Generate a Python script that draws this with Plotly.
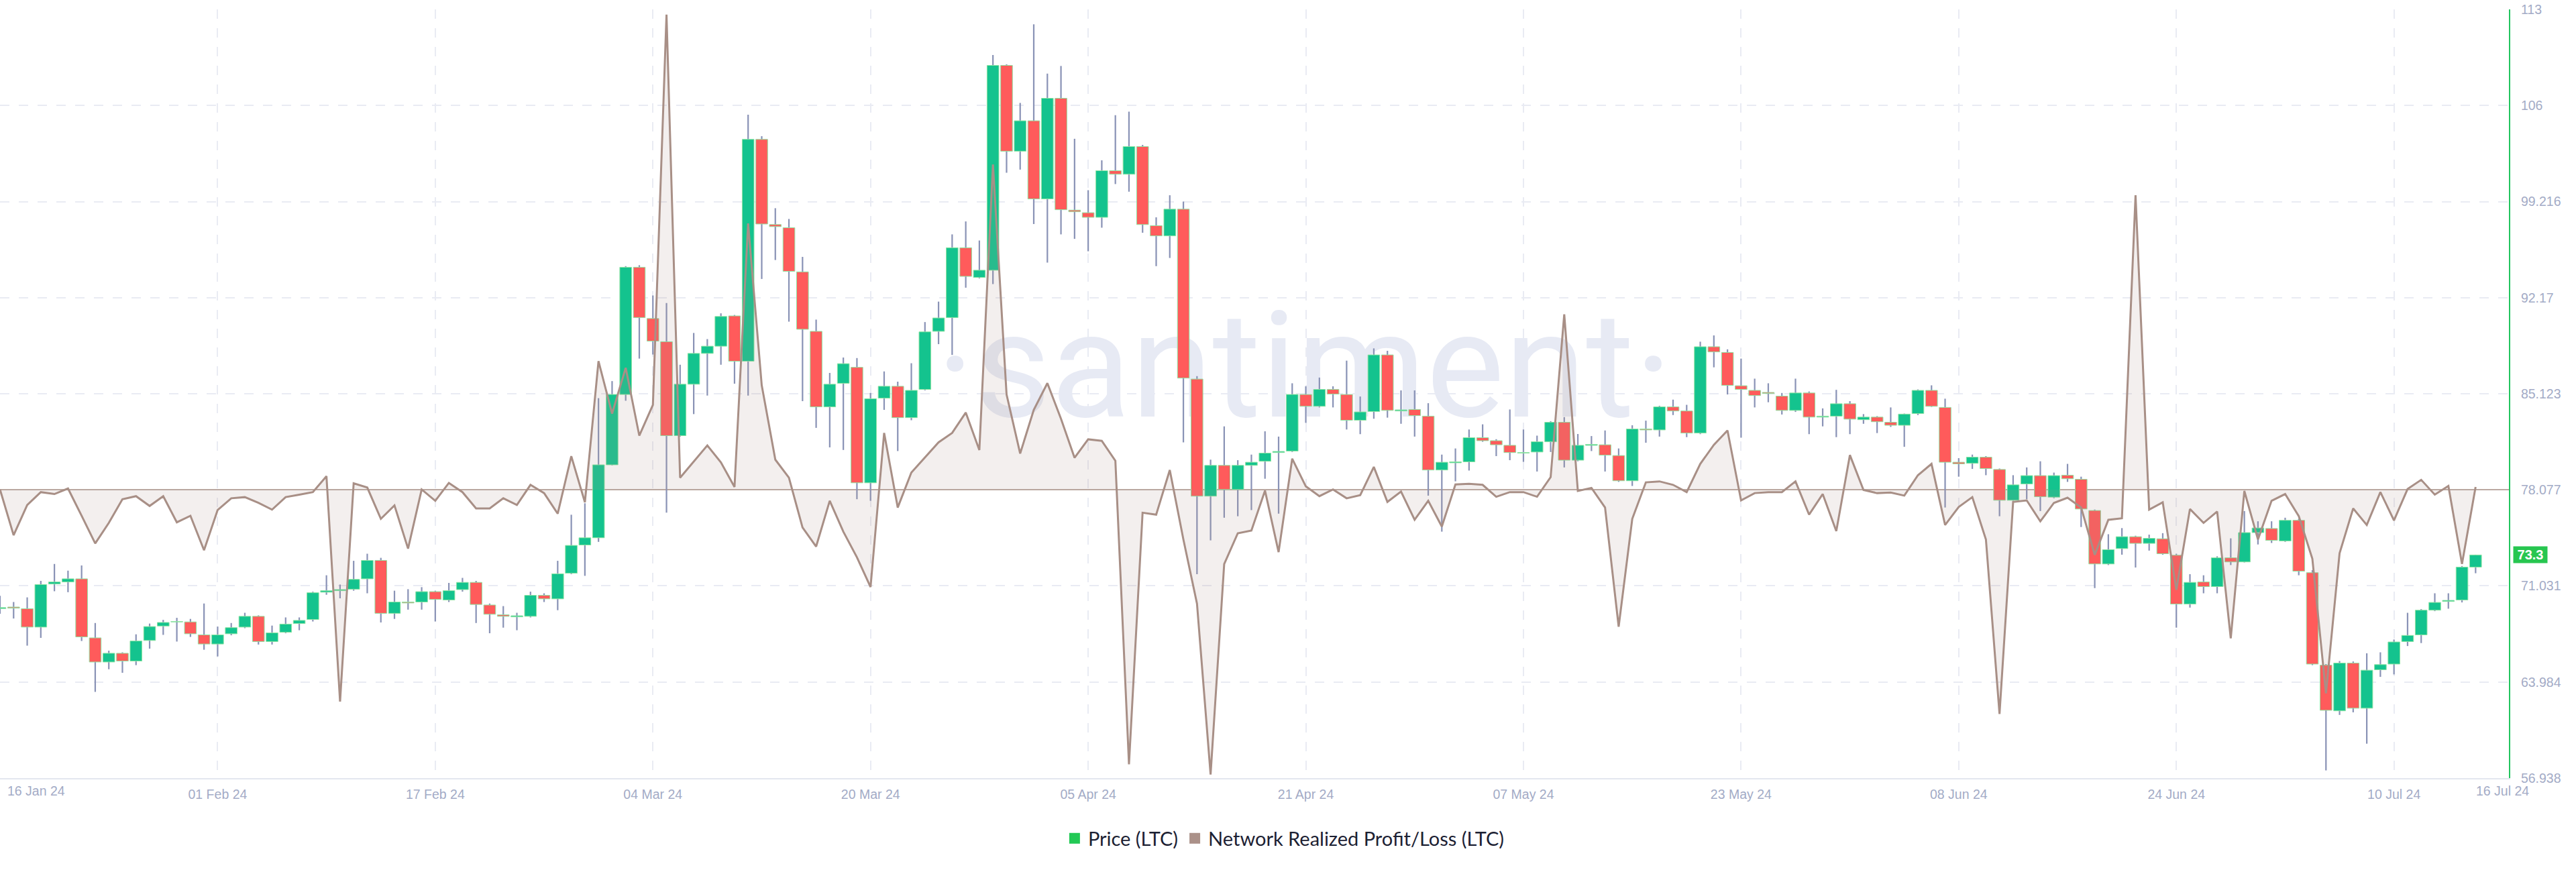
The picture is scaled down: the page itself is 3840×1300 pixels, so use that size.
import pandas as pd
import plotly.graph_objects as go

# ---------------- data ----------------
dates = pd.date_range("2024-01-16", periods=183, freq="D")

price_open = [
    69.37, 69.48, 69.36, 68.01, 71.17, 71.32, 71.55, 67.22, 65.45, 66.09,
    65.52, 67.03, 68.09, 68.39, 68.39, 67.44, 66.77, 67.52, 68.01, 68.80,
    66.95, 67.63, 68.27, 68.57, 70.57, 70.68, 70.79, 71.55, 72.90, 69.02,
    69.85, 69.85, 70.61, 70.00, 70.76, 71.29, 69.63, 68.91, 68.76, 68.80,
    70.34, 70.08, 71.96, 74.03, 74.56, 79.91, 85.07, 94.40, 90.64, 88.94,
    82.05, 85.82, 88.08, 88.61, 90.83, 87.51, 103.78, 97.53, 97.30, 94.06,
    89.70, 84.16, 85.89, 87.06, 78.59, 84.80, 85.67, 83.37, 85.44, 89.70,
    90.71, 95.83, 93.65, 94.18, 109.20, 102.91, 105.14, 99.41, 106.79, 98.59,
    98.40, 98.06, 101.48, 101.22, 103.25, 97.45, 96.70, 98.66, 86.20, 77.61,
    79.87, 78.10, 79.87, 80.17, 80.81, 80.92, 85.07, 84.20, 85.44, 85.07,
    83.18, 83.82, 87.97, 83.86, 83.97, 83.48, 79.53, 80.06, 80.13, 81.90,
    81.68, 81.34, 80.77, 80.85, 81.60, 83.03, 80.25, 81.34, 81.38, 80.59,
    78.74, 82.54, 82.47, 84.16, 83.86, 82.24, 88.57, 88.15, 85.71, 85.37,
    85.22, 84.95, 83.90, 85.18, 83.41, 83.48, 84.39, 83.22, 83.41, 83.03,
    82.81, 83.67, 85.37, 84.12, 80.10, 80.02, 80.47, 79.57, 77.31, 78.51,
    79.12, 77.54, 79.15, 78.85, 76.56, 72.64, 73.77, 74.64, 74.15, 74.49,
    73.28, 69.70, 71.32, 70.98, 73.09, 72.79, 74.94, 75.24, 74.33, 75.84,
    72.00, 65.22, 61.87, 65.37, 62.06, 64.88, 65.30, 66.95, 67.44, 69.25,
    69.89, 70.00, 72.41,
]
price_high = [
    70.30, 69.85, 70.19, 71.40, 72.64, 72.15, 72.53, 68.31, 66.28, 66.16,
    67.48, 68.27, 68.54, 68.69, 68.61, 69.74, 68.05, 68.31, 69.06, 68.87,
    68.12, 68.72, 68.72, 70.61, 71.81, 71.13, 72.87, 73.39, 73.09, 70.68,
    70.79, 70.94, 70.68, 71.25, 71.62, 71.40, 69.74, 69.55, 69.06, 70.61,
    70.49, 72.87, 76.25, 77.09, 84.80, 86.05, 94.48, 94.55, 92.33, 91.77,
    87.25, 89.58, 89.13, 91.02, 90.90, 105.59, 104.01, 98.73, 97.94, 95.16,
    90.56, 86.65, 87.78, 87.74, 85.18, 86.76, 86.01, 87.36, 90.38, 91.88,
    96.81, 97.76, 96.36, 109.96, 109.28, 106.45, 112.22, 108.60, 109.16, 103.82,
    100.05, 102.24, 105.55, 105.81, 103.37, 98.06, 99.68, 99.22, 86.42, 80.29,
    82.73, 80.25, 80.66, 82.37, 81.98, 85.89, 85.67, 86.31, 85.67, 87.55,
    84.92, 88.45, 88.27, 85.37, 85.37, 84.43, 80.66, 81.11, 82.50, 82.88,
    81.79, 83.97, 82.50, 82.05, 83.11, 83.41, 82.17, 82.02, 82.43, 81.11,
    82.81, 83.15, 84.24, 84.69, 84.31, 88.94, 89.40, 88.38, 87.70, 86.23,
    85.89, 85.18, 86.23, 85.29, 84.05, 85.41, 84.58, 83.63, 83.48, 84.12,
    83.67, 85.44, 85.74, 84.76, 80.40, 80.66, 80.55, 79.64, 79.15, 79.72,
    80.17, 79.34, 79.98, 79.04, 76.63, 74.82, 75.27, 74.71, 74.79, 74.90,
    73.39, 71.89, 71.81, 73.20, 74.52, 76.52, 75.77, 75.77, 76.03, 75.95,
    72.19, 65.30, 65.52, 65.49, 66.09, 66.16, 67.10, 69.06, 69.33, 70.49,
    70.49, 72.49, 73.32,
]
price_low = [
    68.99, 68.64, 66.65, 67.22, 70.64, 70.57, 66.99, 63.26, 64.92, 64.66,
    65.22, 66.43, 67.44, 66.95, 67.29, 66.35, 65.86, 67.41, 67.93, 66.73,
    66.73, 67.56, 67.78, 68.42, 70.38, 70.12, 70.68, 70.49, 68.35, 68.61,
    69.29, 69.29, 68.42, 69.85, 70.61, 68.31, 67.56, 67.97, 67.78, 68.72,
    69.85, 69.25, 71.89, 71.77, 74.26, 79.87, 84.61, 87.70, 88.00, 76.40,
    81.98, 83.63, 84.99, 87.25, 85.86, 84.99, 93.54, 94.93, 90.41, 84.58,
    82.62, 81.19, 81.00, 77.39, 77.27, 83.94, 80.92, 83.18, 85.37, 88.76,
    87.97, 92.90, 93.58, 93.16, 101.33, 101.56, 97.57, 94.74, 96.81, 96.48,
    95.57, 97.30, 100.50, 99.94, 96.93, 94.48, 95.08, 81.56, 71.89, 74.37,
    76.03, 76.14, 76.59, 78.89, 76.33, 80.85, 82.99, 84.12, 84.12, 82.50,
    82.16, 83.29, 83.37, 82.92, 81.98, 77.65, 75.01, 78.70, 79.49, 81.60,
    80.55, 80.25, 80.13, 79.42, 80.85, 79.72, 80.17, 80.92, 79.42, 78.66,
    78.36, 81.53, 81.98, 83.56, 81.94, 82.16, 87.06, 85.07, 81.90, 84.12,
    84.50, 83.60, 83.79, 82.16, 82.73, 81.94, 82.16, 82.92, 82.24, 82.69,
    81.23, 83.56, 84.16, 76.78, 79.04, 79.61, 79.15, 76.14, 77.27, 77.39,
    76.52, 77.46, 78.66, 75.35, 70.87, 72.56, 73.32, 72.38, 73.62, 73.32,
    67.97, 69.44, 70.49, 70.49, 72.56, 72.75, 74.07, 74.18, 74.26, 71.81,
    65.22, 57.50, 61.57, 61.76, 59.46, 64.36, 64.54, 66.62, 66.84, 69.18,
    69.36, 69.82, 71.96,
]
price_close = [
    69.44, 69.40, 68.01, 71.13, 71.32, 71.55, 67.29, 65.45, 66.09, 65.52,
    66.99, 68.05, 68.35, 68.42, 67.52, 66.77, 67.44, 67.97, 68.80, 66.95,
    67.59, 68.23, 68.50, 70.53, 70.68, 70.76, 71.51, 72.90, 69.02, 69.85,
    69.78, 70.61, 70.04, 70.68, 71.29, 69.67, 68.95, 68.80, 68.84, 70.34,
    70.08, 71.92, 74.00, 74.56, 79.91, 85.07, 94.40, 90.71, 88.98, 82.05,
    85.82, 88.08, 88.61, 90.79, 87.51, 103.78, 97.57, 97.38, 94.10, 89.85,
    84.16, 85.82, 87.33, 78.59, 84.76, 85.67, 83.37, 85.37, 89.66, 90.68,
    95.83, 93.73, 94.18, 109.20, 102.91, 105.14, 99.41, 106.79, 98.62, 98.47,
    98.06, 101.48, 101.22, 103.25, 97.53, 96.70, 98.66, 86.27, 77.61, 79.87,
    78.10, 79.87, 80.10, 80.77, 80.89, 85.07, 84.20, 85.44, 85.10, 83.18,
    83.79, 87.97, 83.90, 83.94, 83.52, 79.53, 80.10, 80.13, 81.90, 81.68,
    81.38, 80.81, 80.81, 81.60, 83.03, 80.25, 81.34, 81.41, 80.62, 78.74,
    82.54, 82.47, 84.16, 83.86, 82.24, 88.57, 88.19, 85.74, 85.44, 84.99,
    85.14, 83.90, 85.18, 83.41, 83.48, 84.39, 83.26, 83.41, 83.07, 82.81,
    83.63, 85.37, 84.20, 80.10, 79.98, 80.47, 79.64, 77.31, 78.44, 79.12,
    77.57, 79.12, 78.89, 76.67, 72.64, 73.69, 74.64, 74.15, 74.52, 73.39,
    69.70, 71.29, 70.98, 73.09, 72.79, 74.94, 75.28, 74.37, 75.84, 72.11,
    65.30, 61.91, 65.37, 62.06, 64.85, 65.26, 66.92, 67.40, 69.25, 69.82,
    69.97, 72.41, 73.30,
]
# Network Realized Profit/Loss (hidden axis, arbitrary units)
nrpl = [
    0.02, -2.36, -0.79, -0.12, -0.22, 0.07, -1.35, -2.79, -1.72, -0.49,
    -0.33, -0.84, -0.33, -1.69, -1.35, -3.14, -1.05, -0.44, -0.38, -0.68,
    -1.03, -0.38, -0.25, -0.12, 0.71, -11.02, 0.34, 0.12, -1.51, -0.81,
    -3.06, 0.02, -0.57, 0.36, -0.12, -0.97, -0.97, -0.44, -0.79, 0.26,
    -0.17, -1.24, 1.75, -0.65, 6.70, 3.97, 6.35, 2.82, 4.42, 24.73,
    0.63, 1.49, 2.31, 1.43, 0.15, 13.86, 5.44, 1.57, 0.63, -1.96,
    -2.95, -0.57, -2.18, -3.51, -5.06, 2.96, -0.92, 0.90, 1.70, 2.47,
    2.96, 4.02, 2.07, 16.93, 4.96, 1.89, 4.16, 5.55, 3.70, 1.67,
    2.63, 2.55, 1.51, -14.28, -1.19, -1.29, 1.03, -2.58, -5.92, -14.81,
    -3.86, -2.26, -2.12, -0.04, -3.24, 1.62, 0.18, -0.33, 0.02, -0.44,
    -0.28, 1.19, -0.63, -0.09, -1.56, -0.57, -1.91, 0.28, 0.31, 0.26,
    -0.36, -0.12, -0.12, -0.36, 0.66, 9.13, -0.06, 0.10, -0.92, -7.12,
    -1.51, 0.39, 0.44, 0.26, -0.12, 1.35, 2.34, 3.09, -0.55, -0.17,
    -0.12, -0.12, 0.44, -1.29, -0.22, -2.15, 1.81, -0.01, -0.17, -0.14,
    -0.30, 0.76, 1.35, -1.83, -0.89, -0.38, -2.58, -11.66, -0.63, -0.55,
    -1.64, -0.68, -0.41, -0.92, -3.38, -1.56, -1.48, 15.33, -1.03, -0.65,
    -5.20, -1.00, -1.72, -1.13, -7.73, -0.06, -2.58, -0.57, -0.22, -1.37,
    -3.59, -10.59, -3.30, -0.97, -1.83, -0.12, -1.59, 0.04, 0.52, -0.25,
    0.20, -3.86, 0.15,
]

price_tick_vals = [56.938, 63.984, 71.031, 78.077, 85.123, 92.170, 99.216, 106.262, 113.308]
price_tick_text = ["56.938", "63.984", "71.031", "78.077", "85.123", "92.17", "99.216", "106", "113"]
date_tick_vals = pd.date_range("2024-02-01", "2024-07-10", freq="16D")
last_price_label = "73.3"

# ---------------- style ----------------
GREEN = "#14c38e"
RED = "#ff5b5b"
WICK = "#8a93b6"
OUTLINE = "#8fe3a2"
NRPL_COLOR = "#a88f86"
AXIS_TEXT = "#a3abc6"
GRID = "#e9ebf3"
DAY_MS = 86400000

body_base = [min(o, c) for o, c in zip(price_open, price_close)]
body_len = [abs(c - o) for o, c in zip(price_open, price_close)]
wick_len = [h - l for h, l in zip(price_high, price_low)]
body_colors = [GREEN if c >= o else RED for o, c in zip(price_open, price_close)]

x_start = dates[0]
x_end = dates[0] + pd.Timedelta(hours=184.45 * 24)
wm_x = dates[0] + pd.Timedelta(hours=95.9 * 24)

fig = go.Figure()

# watermark on the base (hidden) axes, drawn below everything
fig.add_trace(go.Scatter(
    x=[wm_x], y=[0.518], mode="text", text=["·santiment·"],
    textfont=dict(family="Roboto", size=220, color="#e7eaf4"),
    yaxis="y", showlegend=False, hoverinfo="skip"))

# wicks
fig.add_trace(go.Bar(
    x=dates, y=wick_len, base=price_low, width=DAY_MS * 0.11,
    marker=dict(color=WICK, line=dict(width=0)),
    yaxis="y2", showlegend=False, hoverinfo="skip"))
# bodies
fig.add_trace(go.Bar(
    x=dates, y=body_len, base=body_base, width=DAY_MS * 0.868,
    marker=dict(color=body_colors, line=dict(color=OUTLINE, width=1)),
    yaxis="y2", showlegend=False, hoverinfo="skip"))

# NRPL
fig.add_trace(go.Scatter(
    x=dates, y=nrpl, mode="lines", yaxis="y3",
    line=dict(color=NRPL_COLOR, width=3),
    fill="tozeroy", fillcolor="rgba(168,143,134,0.14)",
    showlegend=False, hoverinfo="skip"))

# legend entries
fig.add_trace(go.Scatter(
    x=[None], y=[None], mode="markers", yaxis="y2", name="Price (LTC)",
    marker=dict(symbol="square", size=18, color="#22c955")))
fig.add_trace(go.Scatter(
    x=[None], y=[None], mode="markers", yaxis="y3",
    name="Network Realized Profit/Loss (LTC)",
    marker=dict(symbol="square", size=18, color="#ab9189")))

tickfont = dict(family="Liberation Sans, Arial, sans-serif", size=19.5, color=AXIS_TEXT)

fig.update_layout(
    width=3840, height=1300,
    margin=dict(l=0, r=100, t=14, b=140),
    paper_bgcolor="white", plot_bgcolor="white",
    barmode="overlay",
    showlegend=True,
    legend=dict(orientation="h", x=0.512, xanchor="center", y=-0.0785, yanchor="middle",
                font=dict(family="Lato", size=29, color="#1c2133"),
                itemsizing="trace", bgcolor="rgba(0,0,0,0)"),
    xaxis=dict(
        type="date", range=[x_start, x_end],
        tickvals=list(date_tick_vals), tickformat="%d %b %y",
        showgrid=True, gridcolor=GRID, gridwidth=2, griddash="14px,14px",
        showline=True, linecolor="#e3e6ef", linewidth=2,
        ticks="", ticklabelstandoff=6, tickfont=tickfont,
        zeroline=False, fixedrange=True),
    yaxis=dict(range=[0, 1], visible=False, fixedrange=True),
    yaxis2=dict(
        overlaying="y", side="right", range=[56.937, 113.309],
        tickvals=price_tick_vals, ticktext=price_tick_text,
        showgrid=True, gridcolor=GRID, gridwidth=2, griddash="14px,14px",
        showline=True, linecolor="#22c55e", linewidth=2,
        ticks="", ticklabelstandoff=12, tickfont=tickfont,
        zeroline=False, fixedrange=True),
    yaxis3=dict(
        overlaying="y", side="left", range=[-15, 25],
        showgrid=False, showline=False, showticklabels=False, ticks="",
        zeroline=True, zerolinecolor="#bba9a2", zerolinewidth=1.5,
        fixedrange=True),
    annotations=[
        dict(text="16 Jan 24", xref="paper", yref="paper", x=54 / 3740, y=-19 / 1146,
             xanchor="center", yanchor="middle", showarrow=False, font=tickfont),
        dict(text="16 Jul 24", xref="paper", yref="paper", x=3730 / 3740, y=-19 / 1146,
             xanchor="center", yanchor="middle", showarrow=False, font=tickfont),
        dict(text="<b>" + last_price_label + "</b>", xref="paper", yref="y2",
             x=3746 / 3740, y=float(last_price_label), xanchor="left", yanchor="middle",
             showarrow=False, bgcolor="#27c650", width=50, height=24, align="center",
             borderpad=0,
             font=dict(family="Liberation Sans, Arial, sans-serif", size=20, color="white")),
    ],
)

fig.write_html("out.html",
               config={"displayModeBar": False},
               post_script="document.body.style.margin='0';document.body.style.overflow='hidden';")
